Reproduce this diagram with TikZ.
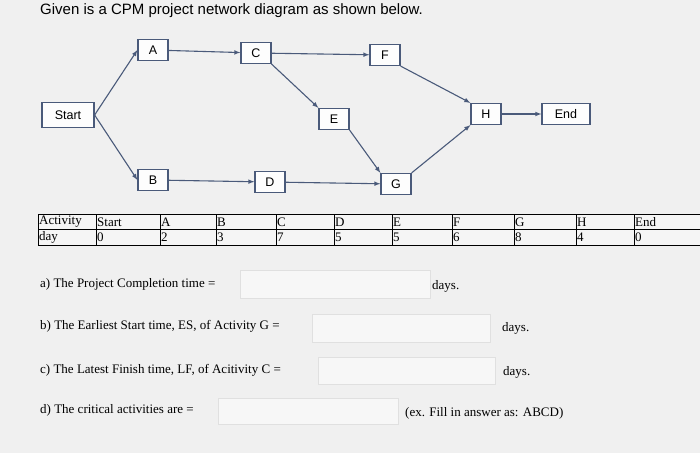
\documentclass[tikz,border=0pt]{standalone}
\usepackage{fontspec}
\newfontfamily\arialf{Liberation Sans}
\newfontfamily\timesf{Liberation Serif}
\begin{document}
\begin{tikzpicture}[x=1pt,y=-1pt,
  bx/.style={draw=lineC,fill=white!85!lineC!8,line width=1.2pt,minimum height=21pt,minimum width=30pt,inner sep=1pt,font=\arialf\fontsize{12.5}{12.5}\selectfont},
  ar/.style={draw=lineC,line width=1.1pt,-latex},
  ans/.style={draw=black!12,fill=black!3},
  qt/.style={anchor=west,font=\timesf\fontsize{13}{13}\selectfont,inner sep=0pt}]
\definecolor{lineC}{HTML}{4A5A7A}
\fill[black!6] (0,0) rectangle (700,453);
\useasboundingbox (0,0) rectangle (700,453);
\node[anchor=west,inner sep=0pt,font=\arialf\fontsize{15}{15}\selectfont] (title) at (40,11) {Given is a CPM project network diagram as shown below.};
\node[bx,minimum width=52pt,minimum height=25pt] (S) at (68,115) {Start};
\node[bx] (A) at (153,50) {A};
\node[bx] (C) at (256,53) {C};
\node[bx] (F) at (385,55) {F};
\node[bx] (E) at (334,119) {E};
\node[bx] (H) at (486,114) {H};
\node[bx,minimum width=48pt] (End) at (566,114) {End};
\node[bx] (B) at (153,180) {B};
\node[bx] (D) at (270,182) {D};
\node[bx] (G) at (396,184) {G};
\draw[ar] (S.east) -- (A.west);
\draw[ar] (S.east) -- (B.west);
\draw[ar] (A) -- (C);
\draw[ar] (C) -- (F);
\draw[ar] (C.south east) -- (E.north west);
\draw[ar] (E.south east) -- (G.north west);
\draw[ar] (B) -- (D);
\draw[ar] (D) -- (G);
\draw[ar] (F.south east) -- (H.north west);
\draw[ar] (G.north east) -- (H.south west);
\draw[ar] (H) -- (End);
% table
\fill[black!4] (38,214) rectangle (700,245);
\draw[line width=1pt] (38,214) -- (700,214) (38,229.5) -- (700,229.5) (38,245) -- (700,245);
\foreach \x in {38,96,160,216,276,334,392,452,514,576,634}{\draw[line width=1pt] (\x,214) -- (\x,245);}
\foreach \x/\a/\d in {38/Activity/day,96/Start/0,160/A/2,216/B/3,276/C/7,334/D/5,392/E/5,452/F/6,514/G/8,576/H/4,634/End/0}{
  \node[anchor=west,inner sep=1pt,font=\timesf\fontsize{13}{13}\selectfont] at (\x,222) {\a};
  \node[anchor=west,inner sep=1pt,font=\timesf\fontsize{13}{13}\selectfont] at (\x,237.5) {\d};}
% questions
\draw[ans] (240,270) rectangle (430,298);
\draw[ans] (312,314) rectangle (490,342);
\draw[ans] (318,357) rectangle (495,384);
\draw[ans] (218,398) rectangle (398,424);
\node[qt] (qa) at (40,284) {a) The Project Completion time =};
\node[qt] (da) at (432,286) {days.};
\node[qt] (qb) at (40,326) {b) The Earliest Start time, ES, of Activity G =};
\node[qt] (db) at (502,328) {days.};
\node[qt] (qc) at (40,370) {c) The Latest Finish time, LF, of Acitivity C =};
\node[qt] (dc) at (503,372) {days.};
\node[qt] (qd) at (40,410) {d) The critical activities are =};
\node[qt] (ex) at (405,413) {(ex. Fill in answer as: ABCD)};
\end{tikzpicture}
\end{document}
